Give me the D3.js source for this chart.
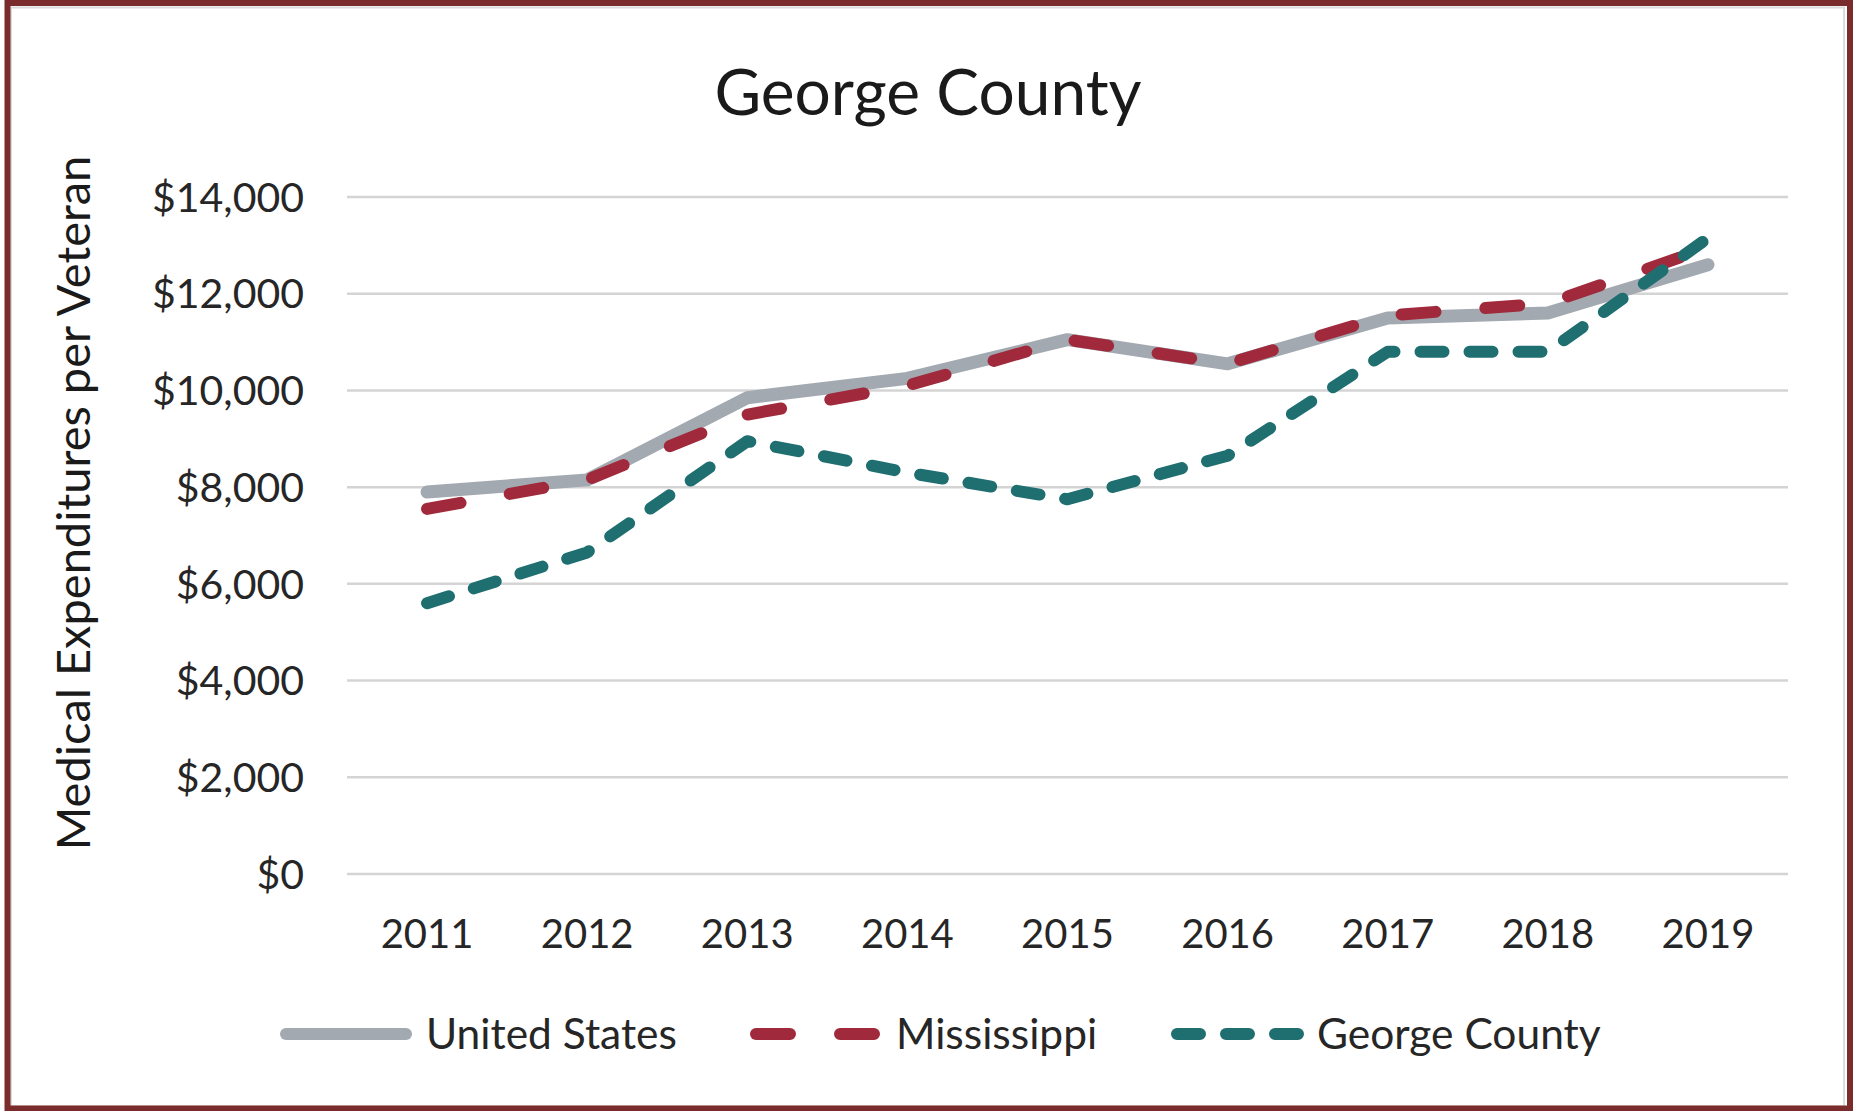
<!DOCTYPE html>
<html lang="en">
<head>
    <meta charset="UTF-8">
    <title>George County</title>
    <script src="https://d3js.org/d3.v7.min.js"></script>
    <style>
        body { margin: 0; background: #fff; }
        svg { display: block; font-family: Lato, "Open Sans", sans-serif; }
    </style>
</head>
<body>
    <div id="chart"></div>

    <script>
        // Data
        const years = ["2011", "2012", "2013", "2014", "2015", "2016", "2017", "2018", "2019"];
        const unitedStates = [7900, 8150, 9850, 10250, 11050, 10550, 11500, 11600, 12600];
        const mississippi = [7550, 8150, 9500, 10100, 11050, 10550, 11550, 11800, 12950];
        const georgeCounty = [5600, 6650, 8950, 8300, 7750, 8650, 10800, 10800, 13150];
        const yTicks = [0, 2000, 4000, 6000, 8000, 10000, 12000, 14000];
        const seriesNames = ["United States", "Mississippi", "George County"];

        const width = 1855, height = 1111;

        const series = [
            { name: seriesNames[0], values: unitedStates, color: "#a3a9b1", dash: null },
            { name: seriesNames[1], values: mississippi, color: "#a02a3b", dash: "34,50" },
            { name: seriesNames[2], values: georgeCounty, color: "#1f6e70", dash: "23,26" }
        ];

        const svg = d3.select("#chart").append("svg")
            .attr("width", width)
            .attr("height", height);

        // outer frame
        svg.append("rect")
            .attr("x", 0).attr("y", 0).attr("width", width).attr("height", height)
            .attr("fill", "#fff");
        svg.append("rect")
            .attr("x", 11).attr("y", 7.5).attr("width", 1833).attr("height", 1099)
            .attr("fill", "none").attr("stroke", "#dcdcdc").attr("stroke-width", 2);
        svg.append("rect")
            .attr("x", 7.5).attr("y", 3).attr("width", 1842.5).attr("height", 1105.5)
            .attr("fill", "none").attr("stroke", "#7a2b2b").attr("stroke-width", 6);

        const x = d3.scalePoint()
            .domain(years)
            .range([347, 1788])
            .padding(0.5);

        const y = d3.scaleLinear()
            .domain([0, 14000])
            .range([874, 197]);

        // gridlines
        svg.append("g")
            .selectAll("line")
            .data(yTicks)
            .join("line")
            .attr("x1", 347).attr("x2", 1788)
            .attr("y1", d => y(d)).attr("y2", d => y(d))
            .attr("stroke", "#d4d4d4")
            .attr("stroke-width", 2.5);

        // y tick labels
        svg.append("g")
            .selectAll("text")
            .data(yTicks)
            .join("text")
            .attr("x", 304)
            .attr("y", d => y(d))
            .attr("dy", "0.36em")
            .attr("text-anchor", "end")
            .attr("font-size", 41)
            .attr("fill", "#262626")
            .text(d => "$" + d3.format(",")(d));

        // x tick labels
        svg.append("g")
            .selectAll("text")
            .data(years)
            .join("text")
            .attr("x", d => x(d))
            .attr("y", 948)
            .attr("text-anchor", "middle")
            .attr("font-size", 40)
            .attr("fill", "#262626")
            .text(d => d);

        // title
        svg.append("text")
            .attr("x", 928)
            .attr("y", 115)
            .attr("text-anchor", "middle")
            .attr("font-size", 64)
            .attr("fill", "#1a1a1a")
            .text("George County");

        // y axis title
        svg.append("text")
            .attr("transform", "translate(73,503) rotate(-90)")
            .attr("dy", "0.36em")
            .attr("text-anchor", "middle")
            .attr("font-size", 47)
            .attr("fill", "#1a1a1a")
            .text("Medical Expenditures per Veteran");

        // lines
        const line = d3.line()
            .x((d, i) => x(years[i]))
            .y(d => y(d));

        svg.append("g")
            .selectAll("path")
            .data(series)
            .join("path")
            .attr("d", d => line(d.values))
            .attr("fill", "none")
            .attr("stroke", d => d.color)
            .attr("stroke-width", d => d.dash ? 12 : 13)
            .attr("stroke-linecap", "round")
            .attr("stroke-linejoin", "round")
            .attr("stroke-dasharray", d => d.dash);

        // legend
        const legendX = [286, 756, 1177];
        const legendY = 1034;
        const legend = svg.append("g")
            .selectAll("g")
            .data(series)
            .join("g")
            .attr("transform", (d, i) => `translate(${legendX[i]},${legendY})`);

        legend.append("line")
            .attr("x1", 0).attr("x2", (d, i) => i === 2 ? 121 : 120)
            .attr("y1", 0).attr("y2", 0)
            .attr("stroke", d => d.color)
            .attr("stroke-width", 12)
            .attr("stroke-linecap", "round")
            .attr("stroke-dasharray", d => d.dash);

        legend.append("text")
            .attr("x", 140)
            .attr("dy", "0.36em")
            .attr("font-size", 42.5)
            .attr("fill", "#262626")
            .text(d => d.name);
    </script>
</body>
</html>
